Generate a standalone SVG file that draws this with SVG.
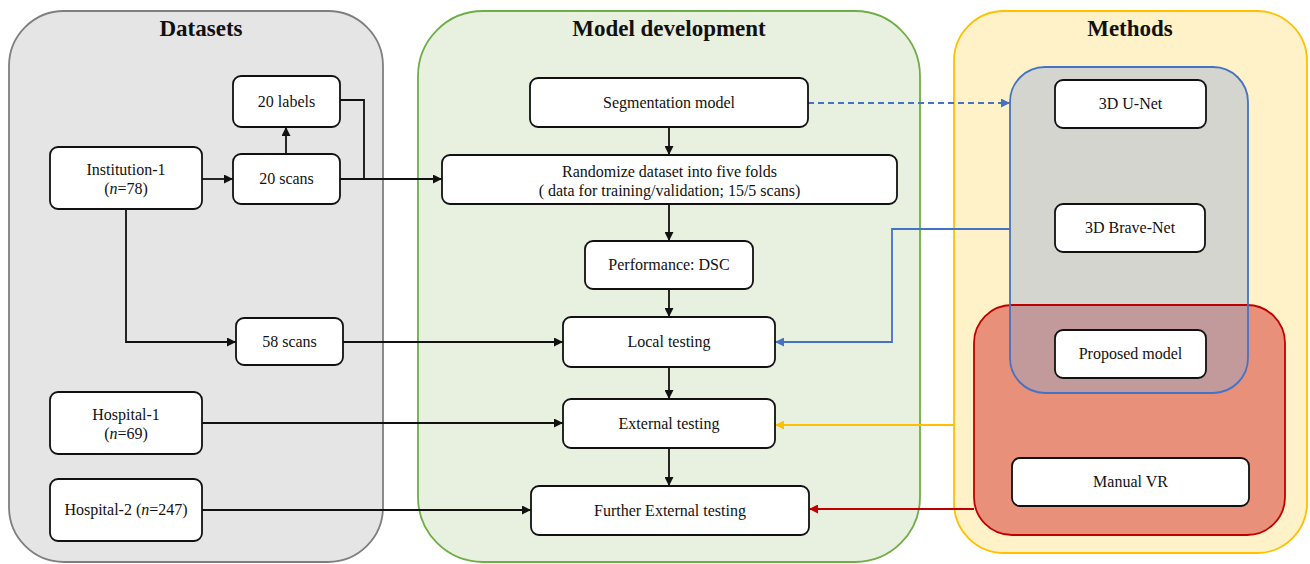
<svg xmlns="http://www.w3.org/2000/svg" width="1310" height="564" viewBox="0 0 1310 564">
<style>
.node rect{fill:#fff;stroke:#111;stroke-width:1.8}
.t,.title{font-family:'Liberation Serif','Times New Roman',serif;fill:#111}
.t{font-size:16px;text-anchor:middle}
.title{font-size:23px;font-weight:bold;text-anchor:middle}
.c{fill:none;stroke:#111;stroke-width:1.8}
</style>
<defs>
<marker id="ak" markerUnits="userSpaceOnUse" markerWidth="10" markerHeight="9" refX="9" refY="4.5" orient="auto"><path d="M0,0 L9,4.5 L0,9 z" fill="#111"/></marker>
<marker id="ab" markerUnits="userSpaceOnUse" markerWidth="10" markerHeight="9" refX="9" refY="4.5" orient="auto"><path d="M0,0 L9,4.5 L0,9 z" fill="#4472c4"/></marker>
<marker id="ay" markerUnits="userSpaceOnUse" markerWidth="10" markerHeight="9" refX="9" refY="4.5" orient="auto"><path d="M0,0 L9,4.5 L0,9 z" fill="#ffc000"/></marker>
<marker id="ar" markerUnits="userSpaceOnUse" markerWidth="10" markerHeight="9" refX="9" refY="4.5" orient="auto"><path d="M0,0 L9,4.5 L0,9 z" fill="#c00000"/></marker>
<clipPath id="clipRed"><rect x="974" y="305" width="311" height="230" rx="38"/></clipPath>
</defs>

<g id="panel-datasets">
<rect x="9" y="11" width="374" height="551" rx="55" fill="#e5e5e5" stroke="#7f7f7f" stroke-width="1.8"/>
<text class="title" x="201" y="36">Datasets</text>
</g>
<g id="panel-model">
<rect x="418" y="11" width="502" height="551" rx="65" fill="#e8f1e0" stroke="#70ad47" stroke-width="1.8"/>
<text class="title" x="669" y="36">Model development</text>
</g>
<g id="panel-methods">
<rect x="954" y="11" width="353" height="542" rx="50" fill="#fff2c8" stroke="#ffc000" stroke-width="1.8"/>
<text class="title" x="1130" y="36">Methods</text>
</g>
<g id="panel-dl">
<rect x="1010" y="67" width="238" height="326" rx="35" fill="#d4d5cf"/>
</g>
<g id="panel-red">
<rect x="974" y="305" width="311" height="230" rx="38" fill="#e8907a"/>
<rect x="1010" y="67" width="238" height="326" rx="35" fill="#c29a9c" clip-path="url(#clipRed)"/>
<rect x="974" y="305" width="311" height="230" rx="38" fill="none" stroke="#c00000" stroke-width="1.8"/>
</g>
<rect x="1010" y="67" width="238" height="326" rx="35" fill="none" stroke="#4472c4" stroke-width="1.8"/>

<g id="connectors">
<path class="c" d="M202,179 H233" marker-end="url(#ak)"/>
<path class="c" d="M286,154 V127" marker-end="url(#ak)"/>
<path class="c" d="M340,100 H364 V179"/>
<path class="c" d="M340,179 H442" marker-end="url(#ak)"/>
<path class="c" d="M126,209 V342 H236" marker-end="url(#ak)"/>
<path class="c" d="M343,342 H563" marker-end="url(#ak)"/>
<path class="c" d="M202,423 H563" marker-end="url(#ak)"/>
<path class="c" d="M202,510 H531" marker-end="url(#ak)"/>
<path class="c" d="M669,127 V155" marker-end="url(#ak)"/>
<path class="c" d="M669,204 V241" marker-end="url(#ak)"/>
<path class="c" d="M669,289 V317" marker-end="url(#ak)"/>
<path class="c" d="M669,367 V399" marker-end="url(#ak)"/>
<path class="c" d="M669,448 V486" marker-end="url(#ak)"/>
<path d="M808,103 H1010" fill="none" stroke="#4472c4" stroke-width="1.8" stroke-dasharray="6,4" marker-end="url(#ab)"/>
<path d="M1010,229 H892 V342 H775" fill="none" stroke="#4472c4" stroke-width="1.8" marker-end="url(#ab)"/>
<path d="M954,425 H775" fill="none" stroke="#ffc000" stroke-width="1.8" marker-end="url(#ay)"/>
<path d="M974,509 H809" fill="none" stroke="#c00000" stroke-width="1.8" marker-end="url(#ar)"/>
</g>

<g id="n-labels" class="node"><rect x="233" y="76" width="107" height="51" rx="8"/><text class="t" x="286.5" y="106.5">20 labels</text></g>
<g id="n-scans20" class="node"><rect x="233" y="154" width="107" height="50" rx="8"/><text class="t" x="286.5" y="184">20 scans</text></g>
<g id="n-inst1" class="node"><rect x="50" y="147" width="152" height="62" rx="8"/><text class="t" x="126" y="175">Institution-1</text><text class="t" x="126" y="194">(<tspan font-style="italic">n</tspan>=78)</text></g>
<g id="n-scans58" class="node"><rect x="236" y="318" width="107" height="47" rx="8"/><text class="t" x="289.5" y="347">58 scans</text></g>
<g id="n-hosp1" class="node"><rect x="50" y="392" width="152" height="62" rx="8"/><text class="t" x="126" y="420">Hospital-1</text><text class="t" x="126" y="439">(<tspan font-style="italic">n</tspan>=69)</text></g>
<g id="n-hosp2" class="node"><rect x="50" y="479" width="152" height="62" rx="8"/><text class="t" x="126" y="515">Hospital-2 (<tspan font-style="italic">n</tspan>=247)</text></g>

<g id="n-seg" class="node"><rect x="530" y="78" width="278" height="49" rx="8"/><text class="t" x="669" y="108">Segmentation model</text></g>
<g id="n-rand" class="node"><rect x="442" y="155" width="455" height="49" rx="8"/><text class="t" x="669.5" y="177">Randomize dataset into five folds</text><text class="t" x="669.5" y="196">( data for training/validation; 15/5 scans)</text></g>
<g id="n-perf" class="node"><rect x="585" y="241" width="168" height="48" rx="8"/><text class="t" x="669" y="270">Performance: DSC</text></g>
<g id="n-local" class="node"><rect x="563" y="317" width="212" height="50" rx="8"/><text class="t" x="669" y="347">Local testing</text></g>
<g id="n-ext" class="node"><rect x="563" y="399" width="212" height="49" rx="8"/><text class="t" x="669" y="429">External testing</text></g>
<g id="n-further" class="node"><rect x="531" y="486" width="278" height="49" rx="8"/><text class="t" x="670" y="516">Further External testing</text></g>

<g id="n-unet" class="node"><rect x="1055" y="80" width="151" height="48" rx="8"/><text class="t" x="1130.5" y="109">3D U-Net</text></g>
<g id="n-brave" class="node"><rect x="1055" y="204" width="150" height="48" rx="8"/><text class="t" x="1130" y="233">3D Brave-Net</text></g>
<g id="n-proposed" class="node"><rect x="1055" y="330" width="151" height="48" rx="8"/><text class="t" x="1130.5" y="359">Proposed model</text></g>
<g id="n-manual" class="node"><rect x="1012" y="458" width="237" height="48" rx="8"/><text class="t" x="1130.5" y="487">Manual VR</text></g>
</svg>
